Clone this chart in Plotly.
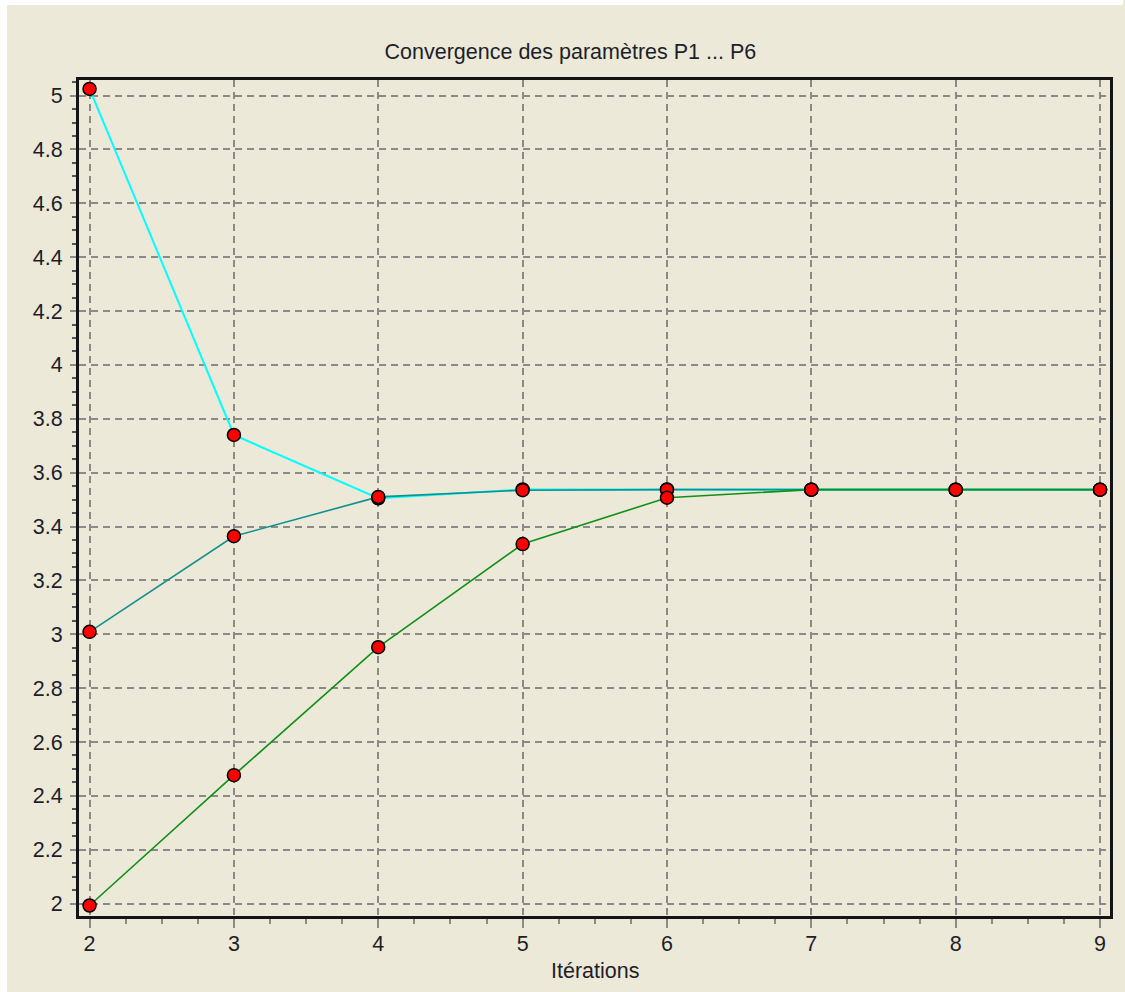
import plotly.graph_objects as go

iterations = [2, 3, 4, 5, 6, 7, 8, 9]
p_cyan = [5.025, 3.740, 3.505, 3.538, 3.538, 3.537, 3.537, 3.537]
p_teal = [3.009, 3.364, 3.510, 3.535, 3.537, 3.537, 3.537, 3.537]
p_green = [1.993, 2.477, 2.952, 3.335, 3.507, 3.537, 3.537, 3.537]

series = [
    ("P1", p_cyan, "#00FFFF", 2.0),
    ("P2", p_teal, "#128F8F", 1.6),
    ("P3", p_green, "#109018", 1.6),
]

BG = "#ECE9D8"
FONT = "Liberation Sans, Arial, sans-serif"
TXT = "#1E1E2A"
FS = 21.5

W, H = 1125, 992
ML, MR, MT, MB = 79, 13, 80, 76
PW, PH = W - ML - MR, H - MT - MB

fig = go.Figure()
for name, ys, color, lw in series:
    fig.add_trace(go.Scatter(
        x=iterations, y=ys, name=name, mode="lines+markers",
        line=dict(color=color, width=lw),
        marker=dict(symbol="circle", size=13, color="#FF0000",
                    line=dict(color="#000000", width=1.5)),
        showlegend=False,
    ))

grid = dict(showgrid=True, gridcolor="#8A8A8A", gridwidth=2, griddash="7px,5px")

fig.update_xaxes(
    range=[1.927, 9.069], tickmode="linear", tick0=2, dtick=1,
    ticks="outside", ticklen=9, tickcolor="#8A8A8A", tickwidth=2,
    minor=dict(dtick=0.25, tick0=2, ticks="outside", ticklen=5,
               tickcolor="#8A8A8A", tickwidth=1.5, showgrid=False),
    showline=True, linecolor="#141414", linewidth=3, mirror=True,
    zeroline=False, tickfont=dict(family=FONT, size=FS, color=TXT),
    ticklabelstandoff=-3,
    **grid,
)
fig.update_yaxes(
    range=[1.954, 5.058], tickmode="linear", tick0=2, dtick=0.2,
    ticks="outside", ticklen=6, tickcolor="#8A8A8A", tickwidth=2,
    minor=dict(dtick=0.05, tick0=2, ticks="outside", ticklen=4,
               tickcolor="#555555", tickwidth=2, showgrid=False),
    showline=True, linecolor="#141414", linewidth=3, mirror=True,
    zeroline=False, tickfont=dict(family=FONT, size=FS, color=TXT),
    ticklabelstandoff=3,
    **grid,
)

shapes = [
    # white strips at the top and left edge of the picture
    dict(type="rect", xref="paper", yref="paper", layer="above",
         x0=-ML / PW, x1=(W - ML) / PW, y0=1 + (MT - 5) / PH, y1=1 + MT / PH,
         fillcolor="#FFFFFF", line=dict(width=0)),
    dict(type="rect", xref="paper", yref="paper", layer="above",
         x0=-ML / PW, x1=(7 - ML) / PW, y0=-MB / PH, y1=1 + MT / PH,
         fillcolor="#FFFFFF", line=dict(width=0)),
]

fig.update_layout(
    width=W, height=H,
    margin=dict(l=ML, r=MR, t=MT, b=MB),
    paper_bgcolor=BG, plot_bgcolor=BG,
    title=dict(text="Convergence des paramètres P1 ... P6",
               x=0.507, xanchor="center", xref="container",
               y=1 - 51 / H, yanchor="middle", yref="container",
               font=dict(family=FONT, size=FS, color=TXT)),
    annotations=[dict(text="Itérations", xref="paper", yref="paper",
                      x=0.5, y=0, xanchor="center", yanchor="middle",
                      yshift=-55, showarrow=False,
                      font=dict(family=FONT, size=FS, color=TXT))],
    shapes=shapes,
)

fig.write_html("out.html")
